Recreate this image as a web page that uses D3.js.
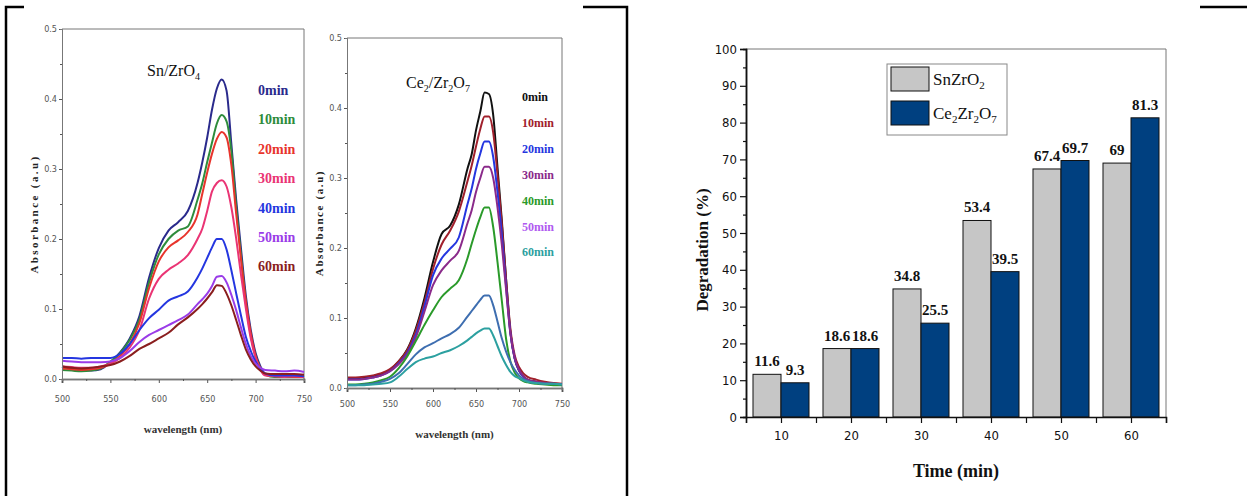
<!DOCTYPE html>
<html>
<head>
<meta charset="utf-8">
<script src="https://cdn.jsdelivr.net/npm/d3@7"></script>
<style>
body { margin: 0; background: #fff; }
svg { display: block; }
.narrow { font-family: 'Liberation Sans Narrow', 'Arial Narrow', 'DejaVu Sans Condensed', 'Liberation Sans', sans-serif; }
.serif { font-family: 'Liberation Serif', 'Times New Roman', serif; }
</style>
</head>
<body>
<svg id="fig" width="1247" height="496"></svg>
<script>
// wavelength grid (nm) shared by both spectra panels
var wavelengths = [500,510,520,530,540,550,560,570,580,590,600,610,620,630,640,645,650,655,660,665,670,675,680,685,690,695,700,705,710,720,730,740,750];
var timeLabels = ['0min','10min','20min','30min','40min','50min','60min'];
var spectraTicks = [500,550,600,650,700,750];

// Sn/ZrO4 absorbance
var sn00 = [0.018,0.015,0.012,0.012,0.014,0.024,0.038,0.058,0.090,0.145,0.187,0.212,0.224,0.240,0.280,0.310,0.345,0.385,0.415,0.428,0.412,0.335,0.255,0.185,0.118,0.070,0.037,0.018,0.007,0.004,0.003,0.004,0.003];
var sn10 = [0.013,0.012,0.011,0.012,0.015,0.025,0.037,0.056,0.085,0.138,0.178,0.200,0.212,0.218,0.256,0.280,0.310,0.338,0.365,0.377,0.368,0.325,0.245,0.175,0.108,0.062,0.032,0.015,0.006,0.003,0.003,0.003,0.003];
var sn20 = [0.015,0.014,0.013,0.014,0.016,0.022,0.033,0.050,0.080,0.130,0.168,0.188,0.198,0.210,0.235,0.265,0.295,0.322,0.343,0.353,0.345,0.305,0.235,0.170,0.110,0.065,0.033,0.015,0.006,0.004,0.004,0.003,0.003];
var sn30 = [0.018,0.017,0.016,0.016,0.018,0.022,0.030,0.045,0.070,0.115,0.143,0.156,0.165,0.177,0.200,0.215,0.240,0.268,0.280,0.284,0.275,0.245,0.200,0.148,0.100,0.058,0.030,0.013,0.005,0.004,0.003,0.004,0.003];
var sn40 = [0.030,0.030,0.029,0.030,0.030,0.030,0.036,0.050,0.070,0.087,0.099,0.112,0.118,0.125,0.145,0.158,0.173,0.188,0.200,0.200,0.185,0.155,0.122,0.090,0.060,0.040,0.025,0.014,0.008,0.005,0.005,0.005,0.004];
var sn50 = [0.026,0.025,0.024,0.024,0.024,0.025,0.030,0.040,0.053,0.063,0.070,0.077,0.084,0.092,0.107,0.114,0.122,0.133,0.146,0.147,0.138,0.120,0.098,0.073,0.050,0.033,0.022,0.016,0.013,0.012,0.011,0.012,0.010];
var sn60 = [0.018,0.016,0.015,0.016,0.018,0.020,0.025,0.033,0.043,0.050,0.058,0.066,0.078,0.088,0.100,0.107,0.115,0.124,0.134,0.133,0.122,0.105,0.084,0.062,0.042,0.028,0.018,0.012,0.008,0.007,0.007,0.007,0.006];

// Ce2/Zr2O7 absorbance
var ce00 = [0.014,0.014,0.015,0.017,0.020,0.026,0.038,0.055,0.085,0.128,0.180,0.220,0.232,0.262,0.313,0.334,0.368,0.395,0.422,0.420,0.390,0.315,0.240,0.155,0.080,0.042,0.025,0.017,0.012,0.009,0.007,0.006,0.005];
var ce10 = [0.015,0.015,0.016,0.018,0.021,0.027,0.038,0.054,0.082,0.122,0.170,0.205,0.225,0.252,0.295,0.318,0.345,0.370,0.388,0.388,0.365,0.305,0.235,0.155,0.085,0.047,0.030,0.021,0.016,0.012,0.009,0.007,0.006];
var ce20 = [0.012,0.012,0.013,0.015,0.018,0.024,0.035,0.050,0.076,0.116,0.161,0.185,0.199,0.215,0.262,0.285,0.313,0.335,0.352,0.352,0.330,0.280,0.220,0.145,0.078,0.042,0.025,0.016,0.011,0.008,0.006,0.005,0.005];
var ce30 = [0.012,0.012,0.013,0.015,0.018,0.024,0.034,0.048,0.072,0.109,0.147,0.168,0.182,0.196,0.235,0.254,0.280,0.300,0.316,0.316,0.300,0.258,0.205,0.140,0.078,0.043,0.026,0.017,0.012,0.009,0.007,0.006,0.005];
var ce40 = [0.005,0.005,0.006,0.008,0.011,0.016,0.028,0.045,0.067,0.090,0.111,0.130,0.142,0.154,0.185,0.206,0.226,0.244,0.258,0.258,0.230,0.180,0.125,0.070,0.038,0.022,0.014,0.010,0.008,0.006,0.005,0.004,0.004];
var ce50 = [0.004,0.004,0.005,0.006,0.009,0.013,0.021,0.034,0.048,0.058,0.064,0.071,0.077,0.086,0.102,0.110,0.118,0.126,0.132,0.132,0.118,0.095,0.071,0.052,0.037,0.026,0.018,0.013,0.010,0.007,0.006,0.006,0.005];
var ce60 = [0.004,0.004,0.004,0.005,0.006,0.008,0.016,0.027,0.037,0.042,0.045,0.050,0.054,0.060,0.068,0.073,0.078,0.082,0.085,0.085,0.075,0.060,0.045,0.033,0.023,0.017,0.014,0.011,0.009,0.007,0.006,0.006,0.005];

// degradation (%)
var times = [10,20,30,40,50,60];
var snZrO2 = [11.6,18.6,34.8,53.4,67.4,69];
var ce2Zr2O7 = [9.3,18.6,25.5,39.5,69.7,81.3];

var svg = d3.select('#fig');
svg.append('rect').attr('width', 1247).attr('height', 496).attr('fill', '#fff');

// page border fragments
var border = 'M6,496V7H24 M583,7H627V496 M1200,7H1247';
svg.append('path').attr('d', border).attr('fill', 'none')
    .attr('stroke', '#000').attr('stroke-width', 2.5);

var addChem = function(t, parts, subSize) {
    parts.forEach(function(p) {
	if (p[1]) {
	    t.append('tspan').text(p[0]).attr('font-size', subSize).attr('dy', 4);
	} else {
	    var s = t.append('tspan').text(p[0]);
	    if (t.selectAll('tspan').size() > 1) s.attr('dy', -4);
	}
    });
};

var drawSpectra = function(p) {
    var x = d3.scaleLinear().domain([500, 750]).range([p.left, p.right]);
    var y = d3.scaleLinear().domain([0, 0.5]).range([p.bottom, p.top]);
    var g = svg.append('g');

    g.append('path')
	.attr('d', `M${p.left},${p.top}H${p.right}V${p.bottom}`)
	.attr('fill', 'none').attr('stroke', '#777').attr('stroke-width', 1);

    var line = d3.line()
	.x(function(d, i) { return x(wavelengths[i]); })
	.y(function(d) { return y(d); })
	.curve(d3.curveMonotoneX);
    p.series.forEach(function(s, k) {
	g.append('path').datum(s)
	    .attr('fill', 'none')
	    .attr('stroke', p.colors[k])
	    .attr('stroke-width', 2)
	    .attr('d', line);
    });

    var ax = g.append('g').attr('transform', `translate(0,${p.bottom})`)
	.call(d3.axisBottom(x).tickValues(spectraTicks).tickSize(4).tickPadding(p.xPad));
    g.append('g').attr('transform', `translate(0,${p.bottom})`)
	.call(d3.axisBottom(x).tickValues(d3.range(525, 750, 50)).tickSize(2).tickFormat(''));
    g.append('g').attr('transform', `translate(${p.left},0)`)
	.call(d3.axisLeft(y).tickValues(d3.range(0, 0.51, 0.1)).tickSize(3).tickPadding(2).tickFormat(d3.format('.1f')));
    g.append('g').attr('transform', `translate(${p.left},0)`)
	.call(d3.axisLeft(y).tickValues(d3.range(0.05, 0.5, 0.1)).tickSize(2).tickFormat(''));
    g.selectAll('.domain').attr('stroke', '#777');
    g.selectAll('.tick line').attr('stroke', '#555');
    ax.select('.domain').attr('stroke', '#111').attr('stroke-width', 1.6);
    g.selectAll('.tick text').attr('class', 'narrow').attr('font-size', 9).attr('fill', '#555');

    g.append('text').attr('class', 'serif')
	.attr('x', (p.left + p.right) / 2).attr('y', p.bottom + p.xLabelDy)
	.attr('text-anchor', 'middle').attr('font-size', 11).attr('font-weight', 'bold')
	.attr('fill', '#333').text('wavelength (nm)');
    g.append('text').attr('class', 'serif')
	.attr('transform', `translate(${p.left - 24},${(p.top + p.bottom) / 2 + 10}) rotate(-90)`)
	.attr('text-anchor', 'middle').attr('font-size', 11).attr('font-weight', 'bold')
	.attr('letter-spacing', p.yLabelSpacing).attr('fill', '#222').text('Absorbance (a.u)');

    var t = g.append('text').attr('class', 'serif')
	.attr('x', p.titleX).attr('y', p.titleY).attr('font-size', 16).attr('fill', '#111');
    addChem(t, p.title, 10);

    timeLabels.forEach(function(lab, k) {
	g.append('text').attr('class', 'serif')
	    .attr('x', p.legX).attr('y', p.legY + k * p.legStep)
	    .attr('font-size', p.legSize).attr('font-weight', 'bold')
	    .attr('fill', p.labelColors[k]).text(lab);
    });
};

drawSpectra({
    left: 62, right: 304, top: 29, bottom: 379,
    series: [sn00, sn10, sn20, sn30, sn40, sn50, sn60],
    colors: ['#2a2a8c', '#2e8c3c', '#e8342c', '#ea3474', '#2436e0', '#9a3ce8', '#8a1e1e'],
    labelColors: ['#2a2a8c', '#2e8c3c', '#e8342c', '#ea3474', '#2436e0', '#9a3ce8', '#8a1e1e'],
    title: [['Sn/ZrO'], ['4', true]], titleX: 147, titleY: 76,
    legX: 258, legY: 95, legStep: 29.4, legSize: 14,
    xPad: 13, xLabelDy: 54, yLabelSpacing: 2.4
});

drawSpectra({
    left: 347, right: 562, top: 38, bottom: 388,
    series: [ce00, ce10, ce20, ce30, ce40, ce50, ce60],
    colors: ['#111111', '#a0202c', '#2436e0', '#8a2a8a', '#2a9a2a', '#3e6eb0', '#2ca0a0'],
    labelColors: ['#111111', '#a0202c', '#2436e0', '#8a2a8a', '#2a9a2a', '#b05af0', '#2ca0a0'],
    title: [['Ce'], ['2', true], ['/Zr'], ['2', true], ['O'], ['7', true]], titleX: 406, titleY: 88,
    legX: 522, legY: 101, legStep: 25.9, legSize: 12,
    xPad: 9, xLabelDy: 50, yLabelSpacing: 1.6
});

// degradation bar chart
var bx = d3.scaleLinear().domain([5, 65]).range([746, 1166]);
var by = d3.scaleLinear().domain([0, 100]).range([417, 49]);
var bg = svg.append('g');

bg.append('path').attr('d', `M${bx(5)},${by(100)}H${bx(65)}V${by(0)}`)
    .attr('fill', 'none').attr('stroke', '#777').attr('stroke-width', 1);

var bars = [
    { values: snZrO2, fill: '#c6c6c6', off: -4 },
    { values: ce2Zr2O7, fill: '#004080', off: 0 }
];
bars.forEach(function(b) {
    bg.selectAll(null).data(times).enter().append('rect')
	.attr('x', function(t) { return bx(t + b.off); })
	.attr('y', function(t, i) { return by(b.values[i]); })
	.attr('width', bx(9) - bx(5))
	.attr('height', function(t, i) { return by(0) - by(b.values[i]); })
	.attr('fill', b.fill).attr('stroke', '#111').attr('stroke-width', 1);
    bg.selectAll(null).data(times).enter().append('text')
	.attr('class', 'serif')
	.attr('x', function(t) { return bx(t + b.off + 2); })
	.attr('y', function(t, i) { return by(b.values[i]) - 8; })
	.attr('text-anchor', 'middle').attr('font-size', 15).attr('font-weight', 'bold')
	.attr('fill', '#111')
	.text(function(t, i) { return b.values[i]; });
});

bg.append('g').attr('transform', `translate(0,${by(0)})`)
    .call(d3.axisBottom(bx).tickValues(d3.range(5, 66, 5)).tickSize(6).tickPadding(8)
	  .tickFormat(function(d) { return times.indexOf(d) >= 0 ? d : ''; }));
bg.append('g').attr('transform', `translate(${bx(5)},0)`)
    .call(d3.axisLeft(by).tickValues(d3.range(0, 101, 10)).tickSize(6).tickPadding(3));
bg.append('g').attr('transform', `translate(${bx(5)},0)`)
    .call(d3.axisLeft(by).tickValues(d3.range(5, 100, 10)).tickSize(3).tickFormat(''));
bg.selectAll('.domain').attr('stroke', '#111').attr('stroke-width', 1.5);
bg.selectAll('.tick line').attr('stroke', '#111').attr('stroke-width', 1.2);
bg.selectAll('.tick text').attr('class', 'narrow').attr('font-size', 13).attr('fill', '#111');

bg.append('text').attr('class', 'serif')
    .attr('x', 956).attr('y', 477).attr('text-anchor', 'middle')
    .attr('font-size', 18).attr('font-weight', 'bold').attr('fill', '#111')
    .text('Time (min)');
bg.append('text').attr('class', 'serif')
    .attr('transform', 'translate(708,250) rotate(-90)')
    .attr('text-anchor', 'middle').attr('font-size', 17).attr('font-weight', 'bold')
    .attr('fill', '#111').text('Degradation (%)');

// legend
bg.append('rect').attr('x', 887).attr('y', 64).attr('width', 120).attr('height', 71)
    .attr('fill', '#fff').attr('stroke', '#888').attr('stroke-width', 1);
var legendItems = [
    { fill: '#c6c6c6', label: [['SnZrO'], ['2', true]] },
    { fill: '#004080', label: [['Ce'], ['2', true], ['Zr'], ['2', true], ['O'], ['7', true]] }
];
legendItems.forEach(function(it, k) {
    bg.append('rect').attr('x', 891).attr('y', 67 + k * 34).attr('width', 38).attr('height', 24)
	.attr('fill', it.fill).attr('stroke', '#111').attr('stroke-width', 1);
    var t = bg.append('text').attr('class', 'serif')
	.attr('x', 933).attr('y', 85 + k * 34).attr('font-size', 17).attr('fill', '#111');
    addChem(t, it.label, 11);
});
</script>
</body>
</html>
